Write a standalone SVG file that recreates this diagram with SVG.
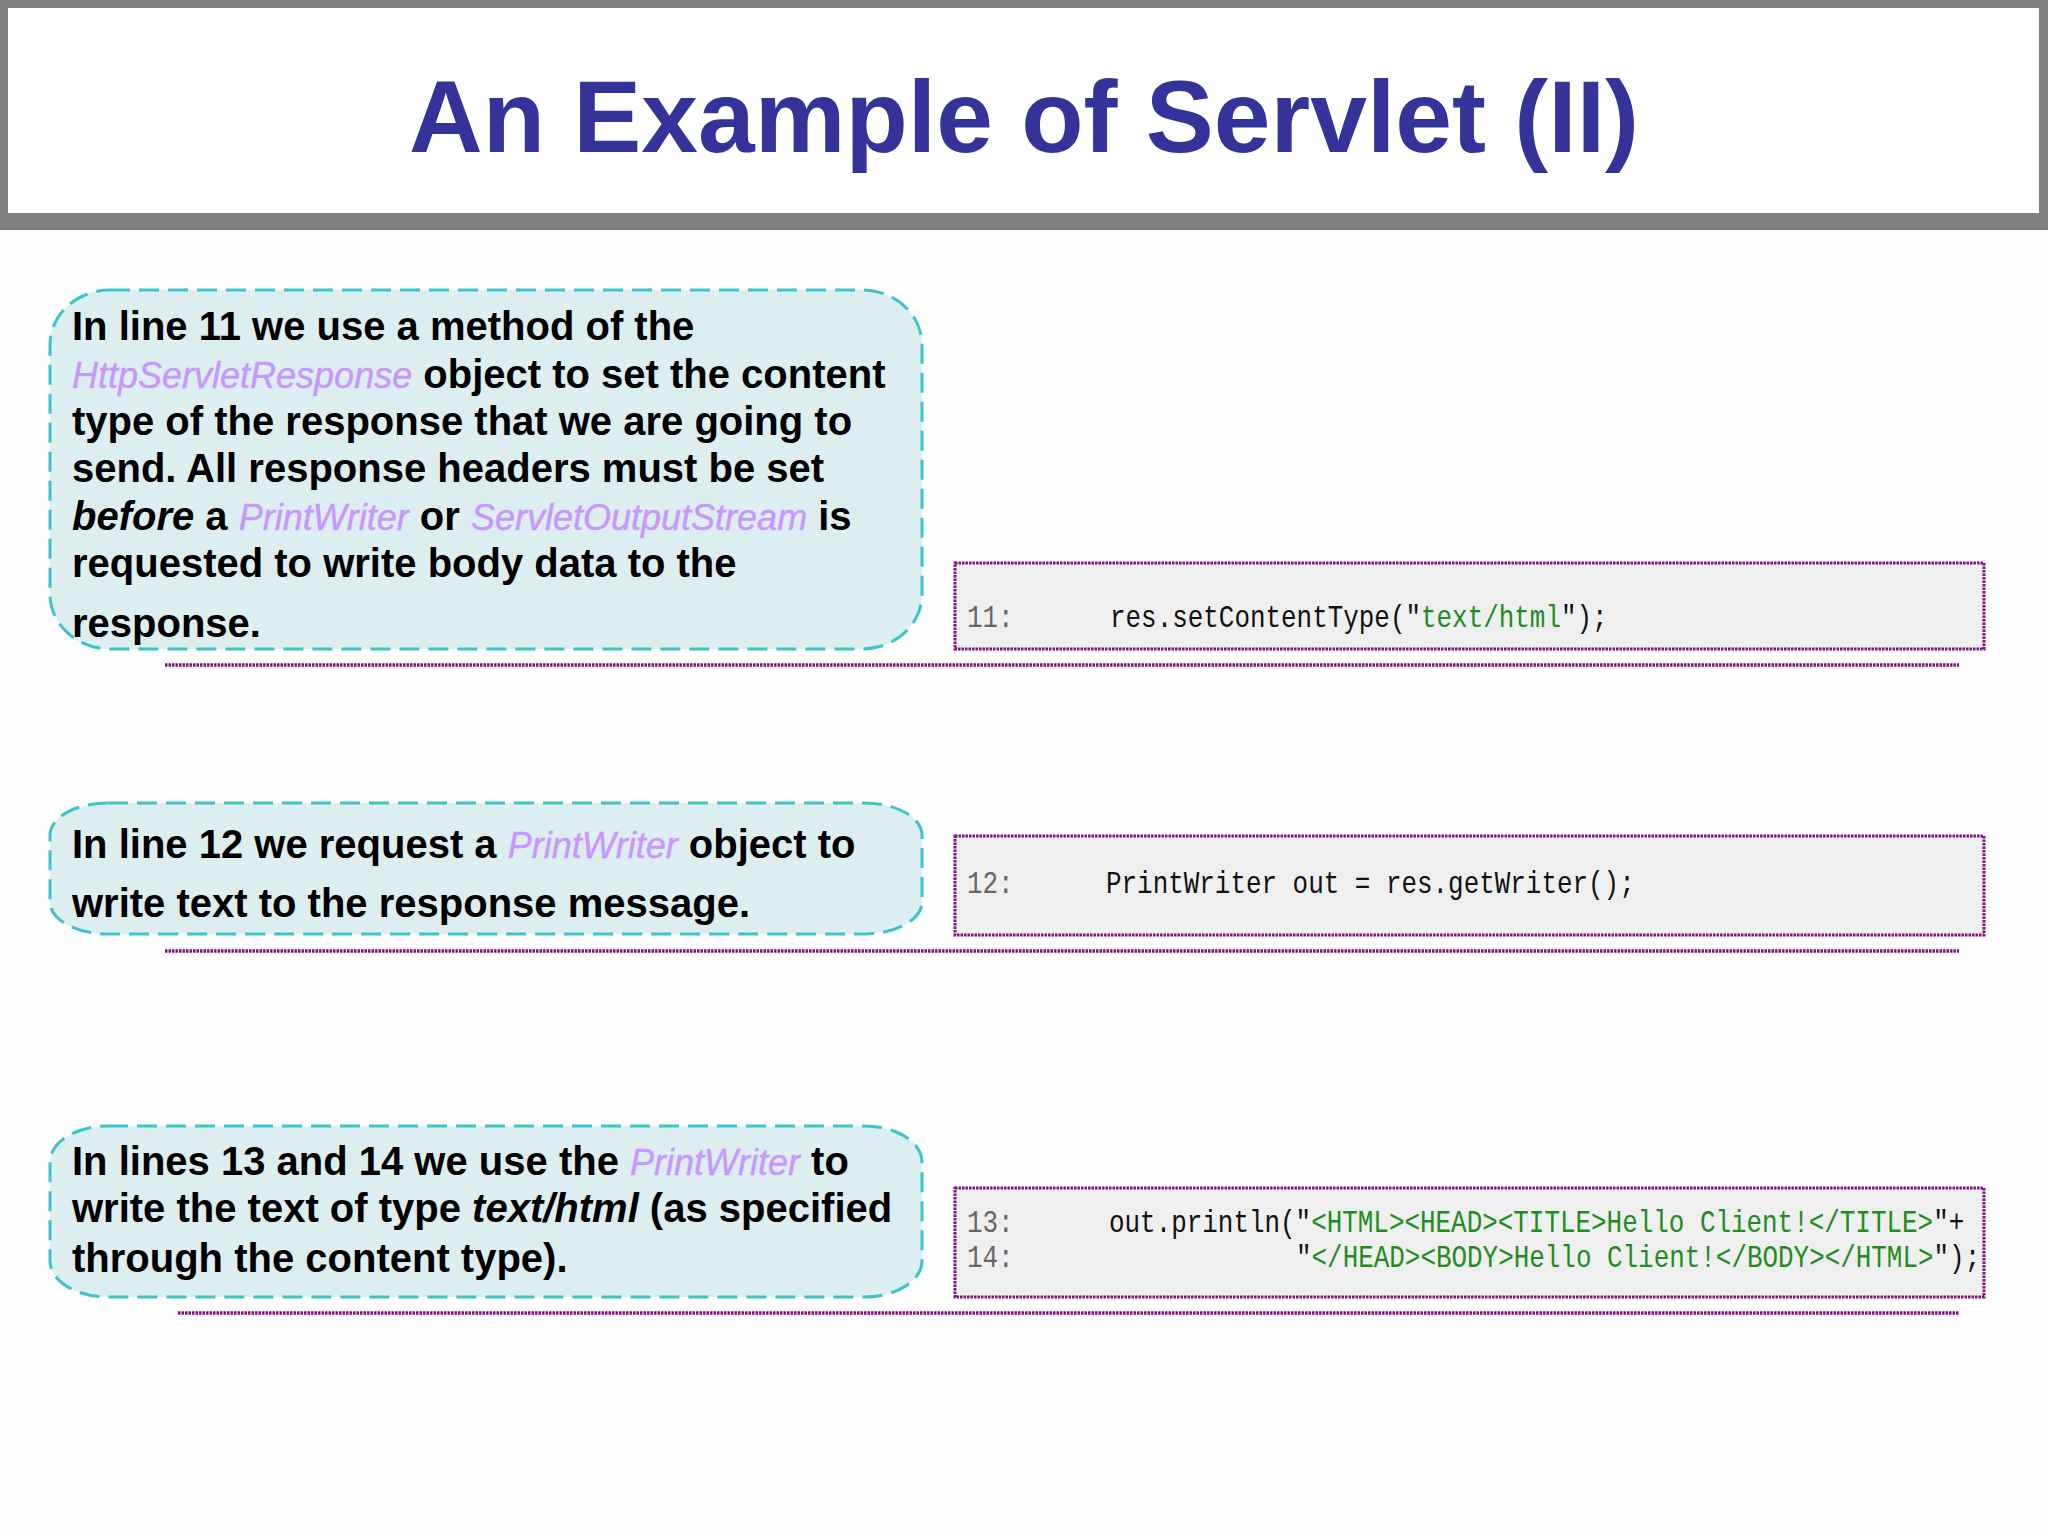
<svg xmlns="http://www.w3.org/2000/svg" width="2048" height="1536" viewBox="0 0 2048 1536">
<style>
.callout{fill:#ddeef0;stroke:#3cc4c8;stroke-width:3;stroke-dasharray:20 9;}
.codebox{fill:#efefef;stroke:#801080;stroke-width:3;stroke-dasharray:2.5 1;}
.sep{stroke:#801080;stroke-width:3.5;stroke-dasharray:2.5 1;fill:none;}
.txt{font-family:"Liberation Sans",Arial,sans-serif;font-weight:bold;font-size:40px;fill:#000;}
.hl{font-style:italic;font-weight:normal;font-size:36px;fill:#c896ff;stroke:#c896ff;stroke-width:0.4;}
.it{font-style:italic;}
.code{font-family:"Liberation Mono","Courier New",monospace;font-size:32px;fill:#111;}
.ln{fill:#666;}
.str{fill:#1e8c1e;}
</style>
<rect x="0" y="0" width="2048" height="1536" fill="#fdfdfe"/>
<g id="title">
<rect x="0" y="0" width="2048" height="230" fill="#808080"/>
<rect x="8" y="8" width="2031" height="205" fill="#ffffff"/>
<text x="1024" y="152" text-anchor="middle" font-family="Liberation Sans, Arial, sans-serif" font-weight="bold" font-size="102" fill="#333399">An Example of Servlet (II)</text>
</g>
<g id="connectors">
<line class="sep" x1="165" y1="665" x2="1959" y2="665"/>
<line class="sep" x1="165" y1="951" x2="1959" y2="951"/>
<line class="sep" x1="178" y1="1313" x2="1959" y2="1313"/>
</g>
<g id="note1">
<rect class="callout" x="50" y="290" width="872" height="359" rx="60" ry="55"/>
<text class="txt">
<tspan x="72" y="340">In line 11 we use a method of the</tspan>
<tspan x="72" y="388"><tspan class="hl">HttpServletResponse</tspan> object to set the content</tspan>
<tspan x="72" y="435">type of the response that we are going to</tspan>
<tspan x="72" y="482">send. All response headers must be set</tspan>
<tspan x="72" y="530"><tspan class="it">before</tspan> a <tspan class="hl">PrintWriter</tspan> or <tspan class="hl">ServletOutputStream</tspan> is</tspan>
<tspan x="72" y="577">requested to write body data to the</tspan>
<tspan x="72" y="637">response.</tspan>
</text>
</g>
<g id="note2">
<rect class="callout" x="50" y="803" width="872" height="131" rx="58" ry="32"/>
<text class="txt">
<tspan x="72" y="858">In line 12 we request a <tspan class="hl">PrintWriter</tspan> object to</tspan>
<tspan x="72" y="917">write text to the response message.</tspan>
</text>
</g>
<g id="note3">
<rect class="callout" x="50" y="1126" width="872" height="171" rx="58" ry="36"/>
<text class="txt">
<tspan x="72" y="1175">In lines 13 and 14 we use the <tspan class="hl">PrintWriter</tspan> to</tspan>
<tspan x="72" y="1222">write the text of type <tspan class="it">text/html</tspan> (as specified</tspan>
<tspan x="72" y="1272">through the content type).</tspan>
</text>
</g>
<g id="code1">
<rect class="codebox" x="955" y="563" width="1029" height="86"/>
<text class="code ln" transform="translate(967,627) scale(0.81,1)">11:</text>
<text class="code" transform="translate(1110,627) scale(0.81,1)">res.setContentType("<tspan class="str">text/html</tspan>");</text>
</g>
<g id="code2">
<rect class="codebox" x="955" y="836" width="1029" height="99"/>
<text class="code ln" transform="translate(967,893) scale(0.81,1)">12:</text>
<text class="code" transform="translate(1106,893) scale(0.81,1)">PrintWriter out = res.getWriter();</text>
</g>
<g id="code3">
<rect class="codebox" x="955" y="1188" width="1029" height="109"/>
<text class="code ln" transform="translate(967,1232) scale(0.81,1)">13:</text>
<text class="code" transform="translate(1109,1232) scale(0.81,1)">out.println("<tspan class="str">&lt;HTML&gt;&lt;HEAD&gt;&lt;TITLE&gt;Hello Client!&lt;/TITLE&gt;</tspan>"+</text>
<text class="code ln" transform="translate(967,1267) scale(0.81,1)">14:</text>
<text class="code" transform="translate(1296,1267) scale(0.81,1)">"<tspan class="str">&lt;/HEAD&gt;&lt;BODY&gt;Hello Client!&lt;/BODY&gt;&lt;/HTML&gt;</tspan>");</text>
</g>
</svg>
